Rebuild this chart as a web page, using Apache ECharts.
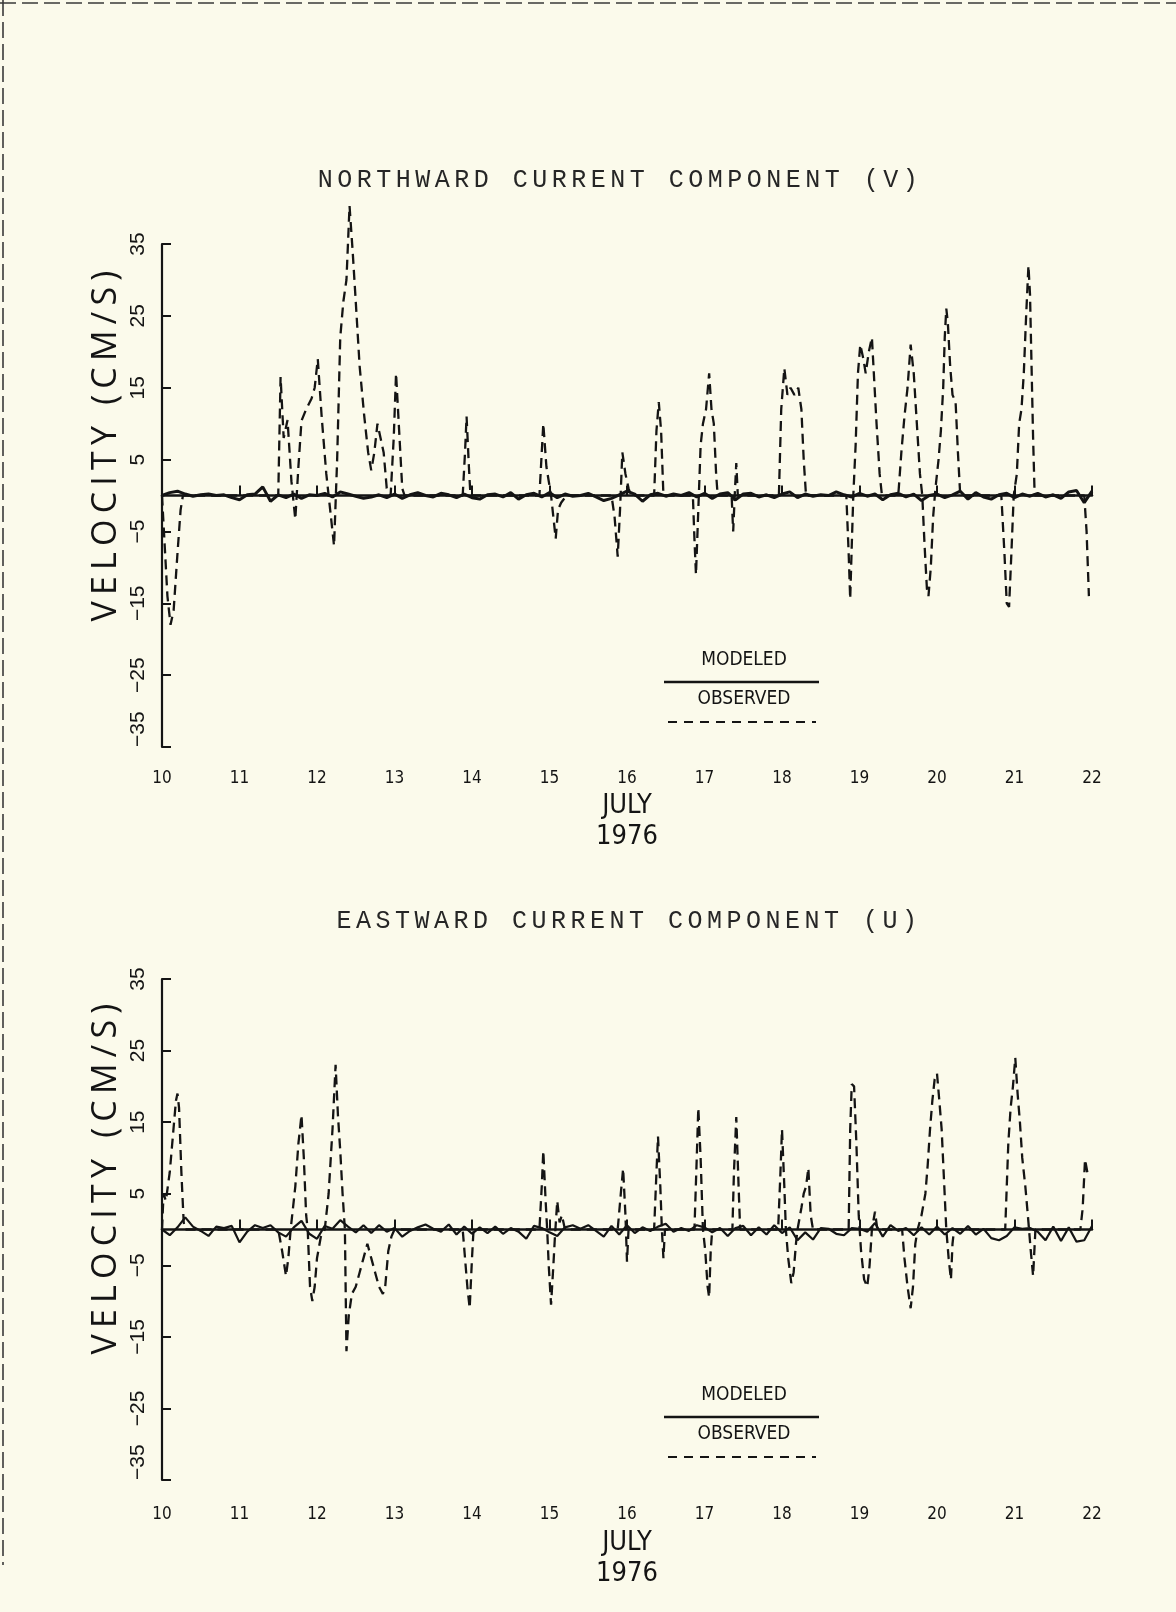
<!DOCTYPE html>
<html><head><meta charset="utf-8">
<style>html,body{margin:0;padding:0;background:#fbfaeb;} #c{width:1176px;height:1612px;}</style>
<script src="https://cdn.jsdelivr.net/npm/echarts@6/dist/echarts.min.js"></script>
</head><body><div id="c"></div>
<script>
// ---------------- DATA ----------------
var xTicks = [10, 22, 1];            // min, max, step of the day axis (July 1976)
var yTicks = [-35, 35, 10];          // min, max, step of velocity axis

// Modeled northward (V), one value every 0.1 day from July 10.0
var modV = [
  0.0, 0.4, 0.6, 0.2,-0.1, 0.1, 0.2, 0.0, 0.1,-0.3,
 -0.6, 0.1, 0.2, 1.2,-0.8, 0.1,-0.3, 0.2,-0.4, 0.1,
  0.0, 0.3,-0.2, 0.5, 0.2,-0.1,-0.4,-0.2, 0.1,-0.3,
  0.2,-0.4, 0.1, 0.4, 0.0,-0.2, 0.3, 0.1,-0.3, 0.2,
 -0.3,-0.5, 0.1, 0.2,-0.2, 0.4,-0.5, 0.1, 0.3,-0.2,
  0.4,-0.3, 0.2,-0.1, 0.0, 0.3,-0.2,-0.7,-0.4, 0.1,
  0.6, 0.2,-0.8, 0.1, 0.3,-0.1, 0.2, 0.0, 0.4,-0.2,
  0.3,-0.4, 0.2, 0.4,-0.6, 0.2, 0.3,-0.2, 0.1,-0.3,
  0.2, 0.5,-0.3, 0.2,-0.1, 0.1, 0.0, 0.5, 0.1,-0.2,
  0.3,-0.1, 0.2,-0.6, 0.1, 0.3,-0.2, 0.2,-0.7, 0.0,
  0.2,-0.3, 0.1, 0.6,-0.5, 0.4,-0.2,-0.5, 0.1, 0.3,
 -0.3, 0.2,-0.1, 0.3,-0.2, 0.1,-0.4, 0.5, 0.7,-1.0, 0.6
];
// Modeled eastward (U), one value every 0.1 day from July 10.0
var modU = [
  0.0,-0.8, 0.3, 1.7, 0.4,-0.2,-0.9, 0.4, 0.2, 0.5,
 -1.8,-0.3, 0.6, 0.2, 0.6,-0.4,-1.0, 0.3, 1.2,-0.6,
 -1.3, 0.5, 0.1, 1.3, 0.4,-0.4, 0.6,-0.5, 0.6,-0.3,
  0.2,-1.0,-0.2, 0.3, 0.7, 0.1,-0.3, 0.7,-0.7, 0.4,
 -0.6, 0.3,-0.5, 0.4,-0.6, 0.2,-0.3,-1.3, 0.5, 0.2,
 -0.4,-0.9, 0.3, 0.6, 0.1, 0.6,-0.2,-1.0, 0.5,-0.7,
  0.6,-0.5, 0.3,-0.2, 0.4, 0.8,-0.3, 0.2,-0.2, 0.6,
  0.3,-0.4, 0.2,-0.9, 0.2, 0.5,-0.8, 0.3,-0.7, 0.6,
 -0.5, 0.3,-1.5,-0.4,-1.4, 0.2, 0.1,-0.6,-0.8, 0.2,
  0.1,-0.3, 0.9,-1.0, 0.6,-0.2, 0.2,-0.8, 0.3,-0.7,
  0.4,-0.7, 0.2,-0.6, 0.5,-0.7, 0.1,-1.2,-1.5,-0.9,
  0.3, 0.1, 0.2,-0.3,-1.5, 0.4,-1.6, 0.3,-1.7,-1.5, 0.5
];
var modStep = 0.1;

// Observed northward (V): [day, cm/s]
var obsV = [
 [10.00,0],[10.03,-6],[10.07,-14],[10.11,-18],[10.15,-16],[10.20,-8],[10.24,-2],[10.27,0],
 [11.50,0],[11.53,16.5],[11.57,8],[11.62,10.5],[11.67,2],[11.72,-3.3],[11.76,4],[11.80,10.4],[11.86,12],[11.93,13.5],[11.97,15],[12.01,19],[12.06,11],[12.12,3],[12.17,-2],[12.22,-7],[12.26,5],[12.30,22],[12.34,27],[12.38,30],[12.42,40.3],[12.46,34],[12.50,27],[12.55,18],[12.61,11],[12.66,6],[12.70,3.5],[12.74,6],[12.78,10],[12.82,8],[12.86,6],[12.90,1],[12.95,0],[12.99,8],[13.02,17],[13.06,9],[13.10,1],[13.13,0],
 [13.88,0],[13.91,6],[13.93,11],[13.96,4],[13.98,0],
 [14.87,0],[14.90,6],[14.92,10],[14.96,4],[14.99,2],[15.02,0],[15.05,-3],[15.08,-6],[15.11,-2],[15.15,-1],[15.22,0],
 [15.80,0],[15.84,-3],[15.88,-8.5],[15.91,-2],[15.94,6],[15.98,3],[16.02,1],[16.05,0],
 [16.35,0],[16.38,9],[16.41,13],[16.44,9],[16.47,0],
 [16.85,0],[16.87,-6],[16.89,-11],[16.92,-2],[16.95,7],[16.98,10],[17.02,12],[17.06,17],[17.09,12],[17.12,10],[17.15,3],[17.17,0],
 [17.35,0],[17.37,-5],[17.39,0],[17.41,4.5],[17.43,0],
 [17.96,0],[17.99,12],[18.03,17.7],[18.07,14],[18.11,15],[18.16,14],[18.21,15],[18.25,12],[18.28,5],[18.31,0],
 [18.83,0],[18.86,-8],[18.88,-14.4],[18.90,-7],[18.92,0],[18.95,7],[18.98,17],[19.01,21],[19.05,19],[19.08,17],[19.12,20],[19.16,22],[19.19,16],[19.22,10],[19.26,3],[19.29,0],
 [19.50,0],[19.54,6],[19.58,11],[19.62,15],[19.66,21],[19.70,17],[19.74,10],[19.78,3],[19.81,0],[19.84,-7],[19.87,-13],[19.89,-14],[19.92,-10],[19.95,-3],[19.98,1],[20.02,5],[20.05,9],[20.08,15],[20.10,22],[20.12,26],[20.14,24],[20.17,18],[20.20,14],[20.24,13],[20.27,6],[20.30,0],
 [20.83,0],[20.87,-8],[20.90,-15],[20.93,-15.5],[20.96,-8],[20.99,0],[21.03,3],[21.06,10],[21.09,12],[21.12,17],[21.15,25],[21.18,32],[21.20,28],[21.22,18],[21.24,8],[21.26,0],
 [21.90,0],[21.93,-5],[21.96,-14]
];
// Observed eastward (U): [day, cm/s]
var obsU = [
 [10.00,0],[10.02,5],[10.05,4],[10.10,8],[10.14,13],[10.18,18],[10.20,19],[10.22,17],[10.25,8],[10.28,1],[10.30,0],
 [11.50,0],[11.55,-3],[11.60,-6.5],[11.63,-4],[11.66,0],[11.72,6],[11.76,12],[11.80,16],[11.83,10],[11.86,2],[11.88,0],[11.91,-8],[11.94,-10],[11.97,-8],[12.00,-4],[12.05,-1],[12.10,0],[12.15,5],[12.20,14],[12.24,23],[12.27,16],[12.30,11],[12.33,5],[12.36,0],[12.38,-17],[12.41,-12],[12.45,-9],[12.50,-8],[12.55,-6],[12.60,-4],[12.65,-2],[12.70,-4],[12.75,-6],[12.80,-8],[12.85,-9],[12.88,-8],[12.92,-3],[12.96,-1],[13.00,0],
 [13.88,0],[13.91,-4],[13.94,-8],[13.97,-11],[14.00,-4],[14.02,0],
 [14.87,0],[14.90,6],[14.92,11],[14.95,4],[14.97,0],[14.99,-5],[15.02,-10.5],[15.05,-5],[15.07,-1],[15.10,4],[15.13,1],[15.16,2],[15.20,0],
 [15.88,0],[15.92,5],[15.95,8.5],[15.98,2],[16.00,-4.5],[16.02,0],
 [16.35,0],[16.38,8],[16.40,13],[16.43,6],[16.45,0],[16.47,-4],[16.49,0],
 [16.87,0],[16.90,10],[16.92,17],[16.95,10],[16.98,0],[17.01,-3],[17.04,-8],[17.06,-9.5],[17.08,-3],[17.10,0],
 [17.36,0],[17.38,8],[17.41,15.7],[17.44,6],[17.46,0],
 [17.95,0],[17.98,8],[18.00,14],[18.03,6],[18.05,0],[18.08,-4],[18.12,-7.5],[18.15,-6],[18.18,-2],[18.20,0],[18.25,3],[18.28,5],[18.31,6],[18.34,8.6],[18.37,2],[18.40,0],
 [18.86,0],[18.88,14],[18.90,20.3],[18.93,20],[18.96,12],[18.99,2],[19.02,-3],[19.06,-7],[19.10,-8],[19.13,-5],[19.16,0],[19.20,2.5],[19.23,0],
 [19.55,0],[19.58,-4],[19.62,-8],[19.66,-11],[19.69,-8],[19.72,-2],[19.75,0],[19.80,2],[19.85,5],[19.88,9],[19.91,14],[19.94,18],[19.97,21],[20.00,21.8],[20.03,18],[20.06,14],[20.09,7],[20.12,0],[20.15,-4],[20.18,-7],[20.20,-2],[20.22,0],
 [20.88,0],[20.92,12],[20.95,17],[20.98,20],[21.01,24],[21.04,19],[21.07,15],[21.10,10],[21.14,6],[21.18,1],[21.21,-3],[21.24,-6.5],[21.27,0],
 [21.85,0],[21.88,3],[21.91,9.8],[21.94,8]
];

var titles = ['NORTHWARD CURRENT COMPONENT (V)', 'EASTWARD CURRENT COMPONENT (U)'];
var yName = 'VELOCITY (CM/S)';
var xName = 'JULY\n1976';
var legendNames = ['MODELED', 'OBSERVED'];

// ---------------- letter spacing for the typewriter-style texts ----------------
(function () {
  var proto = CanvasRenderingContext2D.prototype;
  if (!('letterSpacing' in proto)) return;
  var orig = proto.fillText;
  proto.fillText = function (t, x, y, mw) {
    var f = this.font || '';
    var ls = '0px';
    if (f.indexOf('Liberation Mono') >= 0) ls = '4.5px';
    else if (f.indexOf('Open Sans') >= 0) ls = '6.2px';
    this.letterSpacing = ls;
    return mw === undefined ? orig.call(this, t, x, y) : orig.call(this, t, x, y, mw);
  };
})();

// ---------------- CHART ----------------
var INK = '#141414';
var NARROW = "'Liberation Sans Narrow','DejaVu Sans Condensed',sans-serif";
function pairs(vals) { return vals.map(function (v, i) { return [xTicks[0] + i * modStep, v]; }); }
function minus(v) { return String(v).replace('-', '\u2212'); }

var grids = [
  { left: 162, top: 244, width: 930, height: 503 },
  { left: 162, top: 979, width: 930, height: 501 }
];
var labelMargin = [23, 26], nameGap = [43, 47];

function xAxis(i) {
  return {
    type: 'value', gridIndex: i, min: xTicks[0], max: xTicks[1], interval: xTicks[2],
    axisLine: { show: true, lineStyle: { color: INK, width: 2.5 } },
    axisTick: { show: true, inside: true, length: 10, lineStyle: { color: INK, width: 2 } },
    axisLabel: { margin: labelMargin[i], fontFamily: NARROW, fontSize: 17, color: INK },
    splitLine: { show: false },
    name: xName, nameLocation: 'middle', nameGap: nameGap[i],
    nameTextStyle: { fontFamily: NARROW, fontSize: 27, lineHeight: 31, color: INK }
  };
}
function yAxis(i) {
  return {
    type: 'value', gridIndex: i, min: yTicks[0], max: yTicks[1], interval: yTicks[2],
    axisLine: { show: true, lineStyle: { color: INK, width: 2.2 } },
    axisTick: { show: true, inside: true, length: 9, lineStyle: { color: INK, width: 2 } },
    axisLabel: { rotate: 90, margin: 13, fontFamily: "'Liberation Sans',Arial,sans-serif", fontSize: 21, color: INK,
      formatter: minus, alignMinLabel: 'left' },
    splitLine: { show: false }
  };
}
function modeled(i, vals, w) {
  return { type: 'line', xAxisIndex: i, yAxisIndex: i, data: pairs(vals), showSymbol: false, symbol: 'none',
    clip: false, lineStyle: { color: INK, width: w }, z: 3, silent: true };
}
function observed(i, d) {
  return { type: 'line', xAxisIndex: i, yAxisIndex: i, data: d, showSymbol: false, symbol: 'none',
    clip: false, lineStyle: { color: INK, width: 2.3, type: [10, 6] }, z: 4, silent: true };
}

var graphics = [];
var dy = [0, 735];
var titleY = [180, 921], titleX = [620, 629];
var nameY = [443, 1176];
for (var k = 0; k < 2; k++) {
  graphics.push({ type: 'text', x: titleX[k], y: titleY[k], silent: true,
    style: { text: titles[k], font: "25px 'Liberation Mono'", fill: '#262626', align: 'center', verticalAlign: 'middle' } });
  graphics.push({ type: 'text', x: 106, y: nameY[k], rotation: Math.PI / 2, silent: true,
    style: { text: yName, font: "34px 'Open Sans'", fill: INK, align: 'center', verticalAlign: 'middle' } });
  graphics.push({ type: 'text', x: 744, y: 660 + dy[k], silent: true,
    style: { text: legendNames[0], font: "19px " + NARROW, fill: INK, align: 'center', verticalAlign: 'middle' } });
  graphics.push({ type: 'line', silent: true, shape: { x1: 664, y1: 682 + dy[k], x2: 819, y2: 682 + dy[k] },
    style: { stroke: INK, lineWidth: 2.5 } });
  graphics.push({ type: 'text', x: 744, y: 699 + dy[k], silent: true,
    style: { text: legendNames[1], font: "19px " + NARROW, fill: INK, align: 'center', verticalAlign: 'middle' } });
  graphics.push({ type: 'line', silent: true, shape: { x1: 668, y1: 722 + dy[k], x2: 816, y2: 722 + dy[k] },
    style: { stroke: INK, lineWidth: 2.2, lineDash: [9, 7] } });
}
// scanned page border (dashed)
graphics.push({ type: 'line', silent: true, shape: { x1: 0, y1: 3, x2: 1176, y2: 3 }, style: { stroke: '#3a3a3a', lineWidth: 1.6, lineDash: [16, 6] } });
graphics.push({ type: 'line', silent: true, shape: { x1: 3, y1: 0, x2: 3, y2: 1565 }, style: { stroke: '#3a3a3a', lineWidth: 1.6, lineDash: [16, 6] } });

var chart = echarts.init(document.getElementById('c'), null, { renderer: 'canvas' });
chart.setOption({
  backgroundColor: '#fbfaeb',
  animation: false,
  grid: grids.map(function (g) { return Object.assign({ containLabel: false, outerBoundsMode: 'none' }, g); }),
  xAxis: [xAxis(0), xAxis(1)],
  yAxis: [yAxis(0), yAxis(1)],
  series: [modeled(0, modV, 3), observed(0, obsV), modeled(1, modU, 2.2), observed(1, obsU)],
  graphic: graphics
});
</script></body></html>
